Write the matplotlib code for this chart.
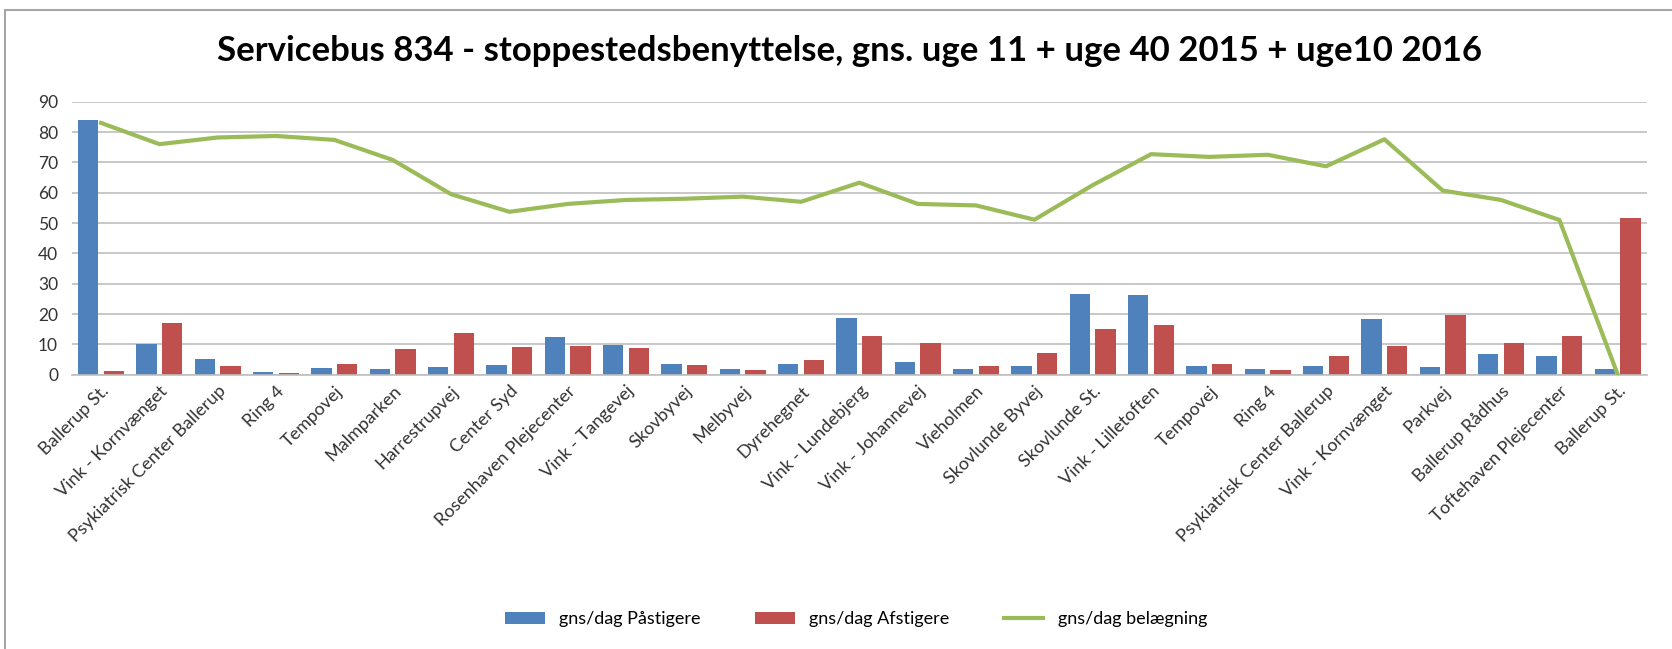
import numpy as np
import matplotlib.pyplot as plt
from matplotlib.patches import Rectangle

plt.rcParams['font.family'] = ['Lato', 'DejaVu Sans']

stops = ["Ballerup St.", "Vink - Kornvænget", "Psykiatrisk Center Ballerup", "Ring 4",
         "Tempovej", "Malmparken", "Harrestrupvej", "Center Syd",
         "Rosenhaven Plejecenter", "Vink - Tangevej", "Skovbyvej", "Melbyvej",
         "Dyrehegnet", "Vink - Lundebjerg", "Vink - Johannevej", "Vieholmen",
         "Skovlunde Byvej", "Skovlunde St.", "Vink - Lilletoften", "Tempovej",
         "Ring 4", "Psykiatrisk Center Ballerup", "Vink - Kornvænget", "Parkvej",
         "Ballerup Rådhus", "Toftehaven Plejecenter", "Ballerup St."]

paastigere = [84.0, 10.0, 5.3, 0.9, 2.2, 1.9, 2.5, 3.2,
              12.5, 9.8, 3.5, 1.9, 3.5, 18.8, 4.2, 1.9,
              2.9, 26.7, 26.3, 2.9, 1.9, 2.9, 18.2, 2.4,
              6.9, 6.3, 1.8]
afstigere = [1.1, 17.1, 3.0, 0.4, 3.5, 8.4, 13.7, 9.0,
             9.3, 8.7, 3.2, 1.4, 4.8, 12.7, 10.5, 2.9,
             7.3, 15.2, 16.5, 3.5, 1.4, 6.3, 9.3, 19.7,
             10.3, 12.7, 51.5]
belaegning = [83.0, 76.0, 78.2, 78.7, 77.4, 70.8, 59.5, 53.7,
              56.3, 57.6, 58.0, 58.7, 57.0, 63.3, 56.3, 55.8,
              51.1, 62.5, 72.7, 71.8, 72.5, 68.7, 77.6, 60.7,
              57.6, 51.0, 0.0]

blue = '#4F81BD'
red = '#C0504D'
green = '#9BBB59'

fig = plt.figure(figsize=(16.72, 6.49), dpi=100)
ax = fig.add_axes([0.043, 0.4227, 0.942, 0.4206])

x = np.arange(len(stops))
w = 0.35
b1 = ax.bar(x - 0.22, paastigere, w, color=blue, zorder=2)
b2 = ax.bar(x + 0.22, afstigere, w, color=red, zorder=2)
l1, = ax.plot(x, belaegning, color=green, lw=3, zorder=3)

ax.set_xlim(-0.5, len(stops) - 0.5)
ax.set_ylim(0, 90)
ax.set_yticks(range(0, 91, 10))
ax.yaxis.grid(True, color='#BFBFBF', lw=1.2)
ax.set_axisbelow(True)
for s in ['top', 'right', 'left']:
    ax.spines[s].set_visible(False)
ax.spines['bottom'].set_color('#BFBFBF')
ax.spines['bottom'].set_linewidth(1.2)
ax.tick_params(axis='both', length=0, labelsize=12.5, colors='#333333')
ax.tick_params(axis='y', pad=10)
ax.tick_params(axis='x', pad=6)
ax.set_xticks(x)
ax.set_xticklabels(stops, rotation=45, ha='right', rotation_mode='anchor', fontsize=13)

fig.text(0.508, 0.921, 'Servicebus 834 - stoppestedsbenyttelse, gns. uge 11 + uge 40 2015 + uge10 2016',
         ha='center', va='center', fontsize=25, fontweight='bold')

fig.legend([b1, b2, l1], ['gns/dag Påstigere', 'gns/dag Afstigere', 'gns/dag belægning'],
           loc='center', bbox_to_anchor=(0.512, 0.046), ncol=3, frameon=False,
           fontsize=13, handlelength=2.2, handleheight=0.6, columnspacing=3)

fig.patches.append(Rectangle((0.003, -0.1), 1.1, 1.1 - 10 / 649, transform=fig.transFigure,
                             fill=False, edgecolor='#A6A6A6', lw=1.5))

fig.savefig('out.png')
